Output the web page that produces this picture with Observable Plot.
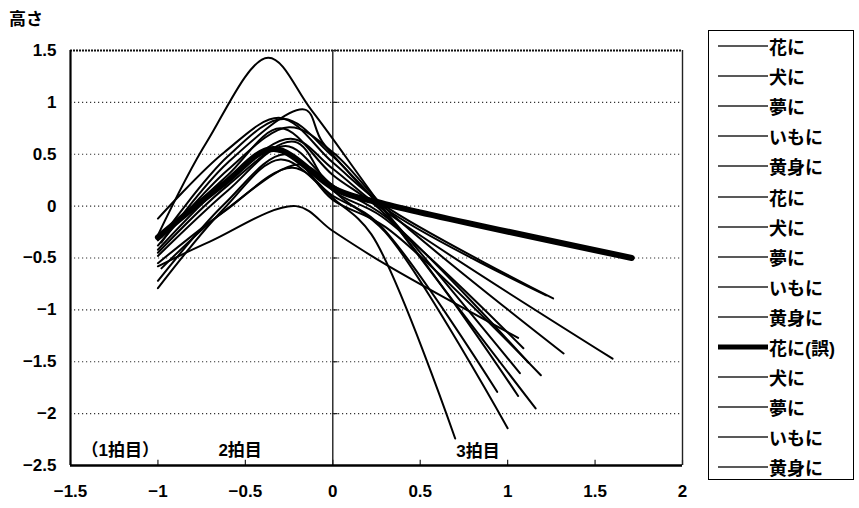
<!DOCTYPE html>
<html>
<head>
<meta charset="utf-8">
<script src="https://cdn.jsdelivr.net/npm/d3@7"></script>
<script src="https://cdn.jsdelivr.net/npm/@observablehq/plot@0.6"></script>
<style>
  html, body { margin: 0; padding: 0; background: #fff; }
  body { width: 859px; height: 508px; position: relative; overflow: hidden;
         font-family: "Liberation Sans", "Noto Sans CJK JP", sans-serif; font-weight: 700; }
  #chart { position: absolute; left: 0; top: 0; }
  #chart text { font-weight: 700; font-family: "Liberation Sans", "Noto Sans CJK JP", sans-serif; }
  #title { position: absolute; left: 9px; top: 5px; font-size: 17px; font-weight: 700; }
  #legend { position: absolute; left: 708px; top: 30px; width: 146px; height: 450px;
            border: 1px solid #000; box-sizing: border-box; }
  .row { position: absolute; left: 0; height: 30px; display: flex; align-items: center; font-size: 18px; font-weight: 700; }
  .row svg { margin-left: 9px; margin-right: 1px; }
</style>
</head>
<body>
<div id="chart"></div>
<div id="title">高さ</div>
<div id="legend"></div>
<script>
// legend labels (series order)
const names = ["花に","犬に","夢に","いもに","黄身に","花に","犬に","夢に","いもに","黄身に","花に(誤)","犬に","夢に","いもに","黄身に"];
const thickIndex = 10;

// each series: [x, y] points
const s01 = [[-1.0,-0.28],[-0.72,0.62],[-0.37,1.43],[-0.12,0.92],[0.3,-0.05],[1.16,-1.95]];
const s02 = [[-0.98,-0.35],[-0.6,0.42],[-0.16,0.93],[-0.06,0.62],[0.3,-0.05],[1.07,-1.61]];
const s03 = [[-1.0,-0.12],[-0.62,0.52],[-0.3,0.85],[0.0,0.42],[0.3,0.0],[1.26,-0.89]];
const s04 = [[-0.98,-0.3],[-0.6,0.48],[-0.28,0.84],[0.0,0.48],[0.3,-0.02],[1.22,-0.86]];
const s05 = [[-1.0,-0.38],[-0.6,0.35],[-0.25,0.76],[0.0,0.52],[0.32,-0.05],[1.32,-1.42]];
const s06 = [[-1.0,-0.42],[-0.6,0.25],[-0.24,0.65],[0.0,0.36],[0.3,-0.05],[1.6,-1.47]];
const s07 = [[-1.0,-0.45],[-0.6,0.2],[-0.22,0.62],[0.0,0.15],[0.28,-0.1],[1.09,-1.37]];
const s08 = [[-1.0,-0.48],[-0.6,0.15],[-0.27,0.58],[0.0,0.2],[0.3,-0.1],[1.12,-1.51]];
const s09 = [[-1.0,-0.72],[-0.62,0.02],[-0.27,0.5],[0.0,0.06],[0.3,-0.2],[1.19,-1.63]];
const s10 = [[-1.0,-0.79],[-0.62,-0.02],[-0.3,0.45],[0.0,0.1],[0.25,-0.15],[0.94,-1.79]];
const s11 = [[-1.0,-0.3],[-0.62,0.22],[-0.34,0.55],[0.03,0.15],[0.3,0.02],[1.71,-0.5]];
const s12 = [[-1.0,-0.55],[-0.62,-0.05],[-0.23,0.37],[0.02,0.05],[0.22,-0.27],[0.70,-2.24]];
const s13 = [[-1.0,-0.58],[-0.7,-0.34],[-0.21,0.0],[0.0,-0.24],[0.3,-0.56],[1.06,-1.27]];
const s14 = [[-0.98,-0.6],[-0.6,-0.02],[-0.18,0.4],[0.05,0.08],[0.3,-0.25],[1.0,-2.14]];
const s15 = [[-1.0,-0.33],[-0.6,0.3],[-0.3,0.75],[0.0,0.3],[0.3,-0.08],[1.06,-1.83]];
const allSeries = [s01,s02,s03,s04,s05,s06,s07,s08,s09,s10,s11,s12,s13,s14,s15];

// axes
const xTicks = [-1.5,-1,-0.5,0,0.5,1,1.5,2];
const yTicks = [-2.5,-2,-1.5,-1,-0.5,0,0.5,1,1.5];
const gridY = [-2,-1.5,-1,-0.5,0,0.5,1];
// in-plot beat labels
const beatLabels = ["（1拍目）","2拍目","3拍目"];
const beatX = [-1.215,-0.53,0.83];
const beatY = [-2.36,-2.36,-2.37];

const rows = allSeries.flatMap((pts, i) => pts.map(([x, y]) => ({x, y, series: i})));
const thin = rows.filter(d => d.series !== thickIndex);
const thick = rows.filter(d => d.series === thickIndex);
const beats = beatLabels.map((t, i) => ({t, x: beatX[i], y: beatY[i]}));

const fmt = d => (d < 0 ? "\u2212" : "") + Math.abs(d);

const chart = Plot.plot({
  width: 859,
  height: 508,
  marginLeft: 70,
  marginRight: 177,
  marginTop: 50,
  marginBottom: 43,
  style: {fontFamily: '"Liberation Sans", "Noto Sans CJK JP", sans-serif', fontSize: "17px", fontWeight: "bold", background: "#fff", color: "#000"},
  x: {domain: [-1.5, 2], ticks: xTicks, tickFormat: fmt, tickSize: 0, tickPadding: 19, label: null},
  y: {domain: [-2.5, 1.5], ticks: yTicks, tickFormat: fmt, tickSize: 0, tickPadding: 14, label: null},
  marks: [
    Plot.ruleY(gridY, {stroke: "#333", strokeWidth: 1.2, strokeDasharray: "1.2,2.8"}),
    Plot.ruleY([1.5], {stroke: "#111", strokeWidth: 1.8, strokeDasharray: "2,1"}),
    Plot.ruleX([0], {stroke: "#222", strokeWidth: 1.4}),
    Plot.ruleY(gridY.concat([1.5]), {x1: 0, x2: 0.03, stroke: "#222", strokeWidth: 1.2}),
    Plot.ruleX(xTicks, {y1: -2.5, y2: -2.45, stroke: "#222", strokeWidth: 1.2}),
    Plot.ruleX([2], {stroke: "#222", strokeWidth: 1.4}),
    Plot.ruleX([-1.5], {stroke: "#000", strokeWidth: 2.2}),
    Plot.ruleY([-2.5], {stroke: "#000", strokeWidth: 2.4}),
    Plot.line(thin, {x: "x", y: "y", z: "series", curve: "catmull-rom", stroke: "#000", strokeWidth: 2}),
    Plot.line(thick, {x: "x", y: "y", curve: "catmull-rom", stroke: "#000", strokeWidth: 6}),
    Plot.text(beats, {x: "x", y: "y", text: "t", fontSize: 17, fontWeight: "bold", fill: "#000"})
  ]
});
document.getElementById("chart").appendChild(chart);

// legend
const legend = document.getElementById("legend");
names.forEach((n, i) => {
  const row = document.createElement("div");
  row.className = "row";
  row.style.top = (i * 30.1) + "px";
  const w = i === thickIndex ? 5 : 1.3;
  row.innerHTML = `<svg width="50" height="10"><line x1="0" x2="50" y1="5" y2="5" stroke="${i === thickIndex ? '#000' : '#222'}" stroke-width="${w}"/></svg><span>${n}</span>`;
  legend.appendChild(row);
});
</script>
</body>
</html>
